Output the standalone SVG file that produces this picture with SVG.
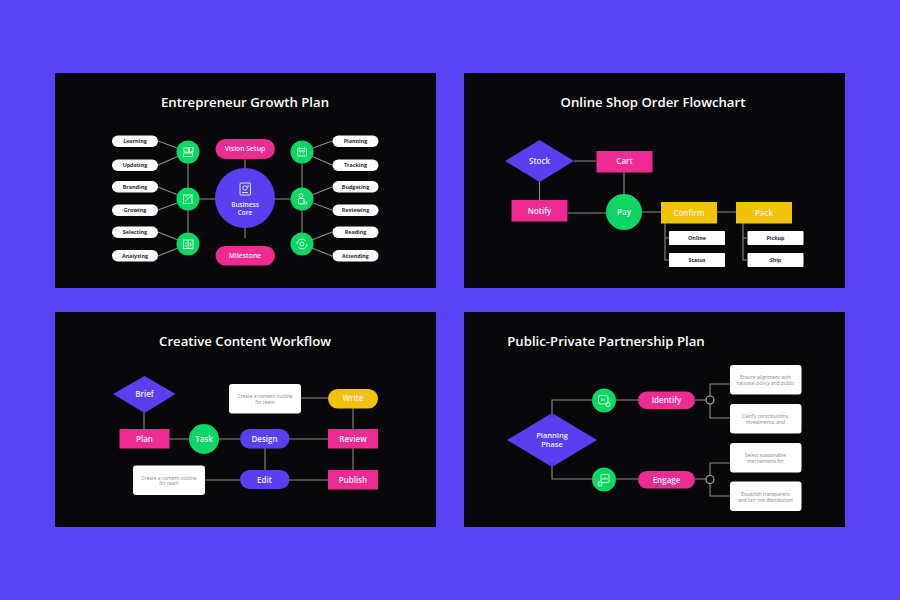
<svg xmlns="http://www.w3.org/2000/svg" width="900" height="600" viewBox="0 0 900 600">
<style>
text{font-family:"Open Sans","Noto Sans","Liberation Sans",sans-serif;text-anchor:middle}
.panel{fill:#08080a}
.title{font-size:13.200px;font-weight:600;fill:#fff}
.lbl{font-size:8px;font-weight:600;fill:#f1edff}
.sm{font-size:5.400px;font-weight:700;fill:#2c2c32}
.note{font-size:4.900px;font-weight:400;fill:#85858c}
.mag{fill:#ee2a93}.vio{fill:#5a3ff0}.grn{fill:#0cd664}.yel{fill:#f0c405}.wht{fill:#fff}
.con path{stroke:#8a8a8a;stroke-width:1.100;fill:none}
.ico{fill:none;stroke:#dcffe9;stroke-width:.9}
.ring{fill:#08080a;stroke:#b5b5b5;stroke-width:1.100}
</style>
<rect width="900" height="600" fill="#5a42f5"/>
<rect class="panel" x="55" y="73" width="381" height="215"/>
<rect class="panel" x="464" y="73" width="381" height="215"/>
<rect class="panel" x="55" y="312" width="381" height="215"/>
<rect class="panel" x="464" y="312" width="381" height="215"/>
<text class="title" x="245" y="106.500">Entrepreneur Growth Plan</text>
<text class="title" x="653" y="106.500">Online Shop Order Flowchart</text>
<text class="title" x="245" y="345.500">Creative Content Workflow</text>
<text class="title" x="606" y="345.500">Public-Private Partnership Plan</text>

<g class="con" id="connectors">
<path d="M158 141L188 152L158 165M158 187L188 199L158 210M158 232L188 244L158 256"/>
<path d="M188 152V244M188 199H245M245 159V238"/>
<path d="M332 141L302 152L332 165M332 187L302 199L332 210M332 232L302 244L332 256"/>
<path d="M302 152V244M302 199H245"/>
<path d="M574 161H596M624 172V212M539.500 180V200M568 213H624M624 212H661M717 212H736"/>
<path d="M665 223V260H669M665 238H669M743 223V260H747M743 238H747"/>
<path d="M144 410V429M169 439H240M289 439H328M353 408V470M301 398H328M265 448V470M204 480H240M289 480H328"/>
<path d="M552 413V400H638M552 467V479H638M695 400H706M695 479H706M710 396V384H730M710 404V418H730M710 475V463H730M710 483V496H730"/>
</g>

<g id="n-core"><circle class="vio" cx="245" cy="198" r="30"/><g class="ico"><rect x="240" y="183" width="10.500" height="12" rx="1"/><circle cx="245" cy="188" r="2.200"/><path d="M242 192.500h6M248 185v2"/></g><text class="lbl" x="245" y="207" style="font-size:6.500px">Business</text><text class="lbl" x="245" y="215" style="font-size:6.500px">Core</text></g>
<g id="n-vision"><rect class="mag" x="215.500" y="139" width="59.500" height="20" rx="10"/><text class="lbl" x="245" y="151" style="font-size:6.800px">Vision Setup</text></g>
<g id="n-milestone"><rect class="mag" x="215.500" y="246" width="59.500" height="19.500" rx="9.700"/><text class="lbl" x="245" y="258" style="font-size:6.800px">Milestone</text></g>
<g id="n-g1"><circle class="grn" cx="188" cy="152" r="11.500"/><g class="ico"><rect x="184" y="148" width="4.500" height="4"/><rect x="189.500" y="147.500" width="3.500" height="4.500"/><rect x="183.500" y="153" width="9" height="3.500" rx=".5"/></g></g>
<g id="n-g2"><circle class="grn" cx="188" cy="199" r="11.500"/><g class="ico"><rect x="183.500" y="195" width="8.500" height="8.500"/><path d="M185 201.500L192.500 194.500M185.500 197h2"/></g></g>
<g id="n-g3"><circle class="grn" cx="188" cy="244" r="11.500"/><g class="ico"><rect x="183.500" y="240" width="9.500" height="8.500"/><path d="M188 240v8.500M185 243h1.800M185 246h1.800M189.500 244.500l2.200 0M190.500 242v5"/></g></g>
<g id="n-g4"><circle class="grn" cx="302" cy="152" r="11.500"/><g class="ico"><rect x="297.500" y="148.500" width="9" height="7.500" rx="1"/><path d="M299.500 147v2.500M304.500 147v2.500M297.500 151h9M300 153h1M303 153h1"/></g></g>
<g id="n-g5"><circle class="grn" cx="302" cy="199" r="11.500"/><g class="ico"><circle cx="301" cy="195.500" r="2"/><rect x="298.500" y="198.500" width="5.500" height="5.500" rx="1"/><circle cx="305.500" cy="203" r="1.400"/></g></g>
<g id="n-g6"><circle class="grn" cx="302" cy="244" r="11.500"/><g class="ico"><path d="M297 244a5 5 0 0 1 8.500-3.500M307 244a5 5 0 0 1-8.500 3.500"/><circle cx="302" cy="244" r="2"/></g></g>

<g id="l1"><rect class="wht" x="112" y="135.500" width="46" height="11.500" rx="5.700"/><text class="sm" x="135" y="143">Learning</text></g>
<g id="l2"><rect class="wht" x="112" y="159.500" width="46" height="11.500" rx="5.700"/><text class="sm" x="135" y="167">Updating</text></g>
<g id="l3"><rect class="wht" x="112" y="181" width="46" height="11.500" rx="5.700"/><text class="sm" x="135" y="188.500">Branding</text></g>
<g id="l4"><rect class="wht" x="112" y="204.500" width="46" height="11.500" rx="5.700"/><text class="sm" x="135" y="212">Growing</text></g>
<g id="l5"><rect class="wht" x="112" y="226.500" width="46" height="11.500" rx="5.700"/><text class="sm" x="135" y="234">Selecting</text></g>
<g id="l6"><rect class="wht" x="112" y="250" width="46" height="11.500" rx="5.700"/><text class="sm" x="135" y="257.500">Analyzing</text></g>
<g id="r1"><rect class="wht" x="332.500" y="135.500" width="46" height="11.500" rx="5.700"/><text class="sm" x="355.500" y="143">Planning</text></g>
<g id="r2"><rect class="wht" x="332.500" y="159.500" width="46" height="11.500" rx="5.700"/><text class="sm" x="355.500" y="167">Tracking</text></g>
<g id="r3"><rect class="wht" x="332.500" y="181" width="46" height="11.500" rx="5.700"/><text class="sm" x="355.500" y="188.500">Budgeting</text></g>
<g id="r4"><rect class="wht" x="332.500" y="204.500" width="46" height="11.500" rx="5.700"/><text class="sm" x="355.500" y="212">Reviewing</text></g>
<g id="r5"><rect class="wht" x="332.500" y="226.500" width="46" height="11.500" rx="5.700"/><text class="sm" x="355.500" y="234">Reading</text></g>
<g id="r6"><rect class="wht" x="332.500" y="250" width="46" height="11.500" rx="5.700"/><text class="sm" x="355.500" y="257.500">Attending</text></g>

<g id="n-stock"><polygon class="vio" points="505,161 539.500,140 574,161 539.500,182"/><text class="lbl" x="539.500" y="164">Stock</text></g>
<g id="n-cart"><rect class="mag" x="596.500" y="151" width="56" height="21.500"/><text class="lbl" x="624.500" y="164">Cart</text></g>
<g id="n-notify"><rect class="mag" x="511.500" y="200" width="56" height="21.500"/><text class="lbl" x="539.500" y="214">Notify</text></g>
<g id="n-pay"><circle class="grn" cx="624" cy="212" r="18"/><text class="lbl" x="624" y="214.500">Pay</text></g>
<g id="n-confirm"><rect class="yel" x="661" y="202" width="56" height="21.500"/><text class="lbl" x="689" y="216">Confirm</text></g>
<g id="n-pack"><rect class="yel" x="736" y="202" width="56" height="21.500"/><text class="lbl" x="764" y="216">Pack</text></g>
<g id="n-online"><rect class="wht" x="669" y="231" width="56" height="14" rx="1"/><text class="sm" x="697" y="240">Online</text></g>
<g id="n-status"><rect class="wht" x="669" y="253" width="56" height="14" rx="1"/><text class="sm" x="697" y="262">Status</text></g>
<g id="n-pickup"><rect class="wht" x="747.500" y="231" width="56" height="14" rx="1"/><text class="sm" x="775.500" y="240">Pickup</text></g>
<g id="n-ship"><rect class="wht" x="747.500" y="253" width="56" height="14" rx="1"/><text class="sm" x="775.500" y="262">Ship</text></g>

<g id="n-brief"><polygon class="vio" points="113,394 144.500,376 175.500,394 144.500,413"/><text class="lbl" x="144.500" y="397">Brief</text></g>
<g id="n-plan"><rect class="mag" x="119.500" y="429" width="50" height="19.500"/><text class="lbl" x="144.500" y="441.500">Plan</text></g>
<g id="n-task"><circle class="grn" cx="204" cy="439" r="15"/><text class="lbl" x="204" y="442">Task</text></g>
<g id="n-design"><rect class="vio" x="240" y="429" width="49.500" height="19.500" rx="9.700"/><text class="lbl" x="264.500" y="442">Design</text></g>
<g id="n-review"><rect class="mag" x="328" y="429" width="50" height="19.500"/><text class="lbl" x="353" y="442">Review</text></g>
<g id="n-write"><rect class="yel" x="328" y="389" width="50" height="19.500" rx="9.700"/><text class="lbl" x="353" y="401">Write</text></g>
<g id="n-edit"><rect class="vio" x="240" y="470" width="49.500" height="19" rx="9.500"/><text class="lbl" x="264.500" y="482.500">Edit</text></g>
<g id="n-publish"><rect class="mag" x="328" y="470" width="50" height="19.500"/><text class="lbl" x="353" y="482.500">Publish</text></g>
<g id="n-note1"><rect class="wht" x="229" y="384" width="72" height="29.500" rx="3"/><text class="note" x="265" y="398">Create a content outline</text><text class="note" x="265" y="403.500">for team</text></g>
<g id="n-note2"><rect class="wht" x="133" y="465.500" width="72" height="29.500" rx="3"/><text class="note" x="169" y="479.500">Create a content outline</text><text class="note" x="169" y="485">for team</text></g>

<g id="n-phase"><polygon class="vio" points="507,440 552,413 597,440 552,467"/><text class="lbl" x="552" y="438" style="font-size:7.500px">Planning</text><text class="lbl" x="552" y="446.500" style="font-size:7.500px">Phase</text></g>
<g id="n-g7"><circle class="grn" cx="604" cy="400.500" r="12"/><g class="ico"><rect x="598.500" y="395.500" width="9.500" height="8.500" rx="2"/><path d="M601 399l1.500 1-1.500 1M604 399v2"/><circle cx="608" cy="404.500" r="2"/></g></g>
<g id="n-g8"><circle class="grn" cx="604" cy="479.500" r="12"/><g class="ico"><rect x="601" y="474.500" width="8" height="8" rx="1"/><path d="M603 480v-2M605 480v-3M607 480v-2"/><circle cx="600" cy="484" r="2"/></g></g>
<g id="n-identify"><rect class="mag" x="638" y="391.500" width="57" height="17.500" rx="8.700"/><text class="lbl" x="666.500" y="403">Identify</text></g>
<g id="n-engage"><rect class="mag" x="638" y="471" width="57" height="17.500" rx="8.700"/><text class="lbl" x="666.500" y="482.500">Engage</text></g>
<g id="n-j1"><circle class="ring" cx="710" cy="400" r="4"/></g>
<g id="n-j2"><circle class="ring" cx="710" cy="479.500" r="4"/></g>
<g id="n-b1"><rect class="wht" x="730" y="365" width="71.500" height="29.500" rx="3"/><text class="note" x="765.500" y="379">Ensure alignment with</text><text class="note" x="765.500" y="385">national policy and public</text></g>
<g id="n-b2"><rect class="wht" x="730" y="404" width="71.500" height="29.500" rx="3"/><text class="note" x="765.500" y="418">Clarify contributions,</text><text class="note" x="765.500" y="424">investments, and</text></g>
<g id="n-b3"><rect class="wht" x="730" y="443" width="71.500" height="29.500" rx="3"/><text class="note" x="765.500" y="457">Select sustainable</text><text class="note" x="765.500" y="463">mechanisms for</text></g>
<g id="n-b4"><rect class="wht" x="730" y="481.500" width="71.500" height="29.500" rx="3"/><text class="note" x="765.500" y="495.500">Establish transparent</text><text class="note" x="765.500" y="501.500">and fair risk distribution</text></g>
</svg>
